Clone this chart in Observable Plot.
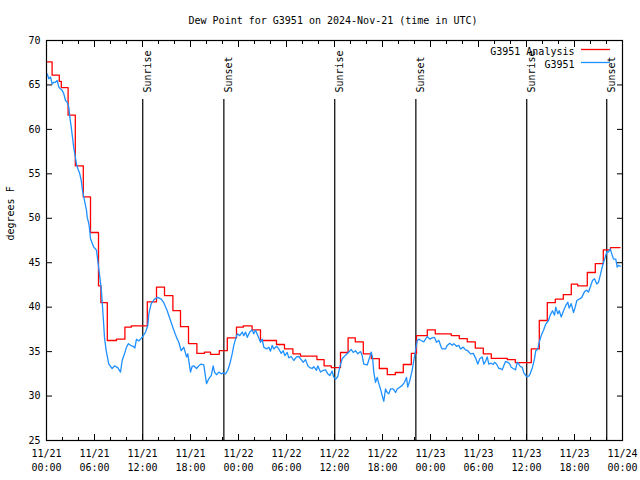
<!DOCTYPE html>
<html><head><meta charset="utf-8">
<script src="https://cdn.jsdelivr.net/npm/d3@7"></script>
<script src="https://cdn.jsdelivr.net/npm/@observablehq/plot@0.6"></script>
<style>body{margin:0;background:#fff} svg{display:block}</style>
</head><body><div id="chart"></div>
<script>
const title = "Dew Point for G3951 on 2024-Nov-21 (time in UTC)";
const yLabel = "degrees F";
const seriesNames = ["G3951 Analysis", "G3951"];
const seriesColors = ["#ff0000", "#1e90ff"];
const startUTC = Date.UTC(2024, 10, 21);

// observations (hours since 11/21 00:00 UTC, dew point °F)
const obsHours = [0.09,0.29,0.5,0.71,0.91,1.12,1.34,1.54,1.75,1.96,2.16,2.38,2.59,2.79,2.91,3.09,3.25,3.41,3.54,3.75,3.91,4.16,4.34,4.5,4.66,4.84,5.0,5.09,5.29,5.41,5.5,5.91,6.25,6.41,6.66,6.84,7.09,7.25,7.46,7.79,8.21,8.5,8.91,9.25,9.46,9.75,10.0,10.25,10.5,10.84,11.04,11.25,11.54,11.75,12.04,12.38,12.66,12.79,13.09,13.5,13.91,14.34,14.66,15.09,15.5,15.84,16.25,16.54,16.84,17.16,17.5,17.66,18.0,18.21,18.41,18.75,19.04,19.34,19.66,20.0,20.29,20.59,20.84,21.0,21.25,21.54,21.84,22.09,22.38,22.66,22.91,23.21,23.41,23.63,23.84,24.16,24.46,24.66,24.88,25.09,25.41,25.71,25.91,26.13,26.41,26.75,26.96,27.16,27.5,27.79,28.0,28.21,28.41,28.75,29.04,29.34,29.59,29.79,30.09,30.29,30.59,30.91,31.25,31.54,31.84,32.09,32.38,32.66,32.91,33.21,33.41,33.75,33.91,34.25,34.59,34.88,35.16,35.41,35.71,35.91,36.16,36.41,36.66,36.96,37.38,37.79,38.09,38.34,38.63,38.91,39.25,39.46,39.66,40.09,40.41,40.59,40.75,40.91,41.13,41.34,41.54,41.75,41.96,42.16,42.38,42.59,42.79,43.0,43.34,43.63,43.84,44.16,44.46,44.75,45.0,45.16,45.41,45.71,45.91,46.13,46.34,46.54,46.84,47.16,47.59,47.91,48.21,48.5,48.75,49.04,49.34,49.46,49.88,50.09,50.41,50.71,50.91,51.25,51.54,51.75,52.09,52.38,52.66,53.0,53.34,53.63,53.91,54.16,54.46,54.66,54.88,55.09,55.29,55.59,55.84,56.0,56.25,56.54,56.75,56.96,57.16,57.38,57.66,57.91,58.09,58.34,58.63,58.84,59.04,59.25,59.46,59.66,60.0,60.29,60.46,60.75,61.0,61.16,61.41,61.59,61.84,62.13,62.41,62.75,62.96,63.25,63.5,63.66,63.91,64.09,64.34,64.63,64.91,65.16,65.34,65.59,65.88,66.09,66.29,66.59,66.91,67.25,67.54,67.75,67.96,68.25,68.5,68.79,69.0,69.21,69.41,69.63,69.84,70.04,70.25,70.46,70.66,70.88,71.16,71.34,71.5,71.75];
const obsDewF = [66.25,65.7,65.9,65.1,65.3,65.3,65.5,64.75,64.55,64.4,64.0,63.25,63.05,62.5,61.4,60.25,59.1,57.9,57.25,56.1,55.6,55.0,54.25,53.1,52.4,51.6,50.9,50.1,49.4,48.6,47.7,46.75,46.4,45.25,43.4,42.1,38.9,36.6,35.1,33.6,33.1,33.4,33.2,32.7,34.0,34.75,35.5,35.9,35.7,35.6,35.4,36.4,36.2,36.4,36.7,37.2,37.9,39.25,40.4,40.9,41.1,40.9,40.5,39.6,38.5,37.6,36.6,36.05,35.1,35.5,34.4,34.75,32.7,33.35,33.4,33.1,33.4,33.6,33.5,31.4,31.95,32.3,33.4,32.7,32.4,32.7,32.5,32.6,32.5,32.9,33.6,34.75,35.7,36.4,37.0,36.8,37.2,36.8,37.2,36.6,37.2,37.45,37.0,37.4,36.8,36.05,36.4,35.5,35.3,35.5,35.05,35.7,35.3,35.6,35.3,34.8,35.1,34.55,34.9,34.3,34.45,34.0,34.4,34.45,34.1,33.8,34.1,33.4,33.2,33.1,33.3,32.9,33.4,32.7,32.9,32.95,32.5,32.3,32.8,32.1,31.9,32.2,33.25,34.2,34.6,34.95,35.25,34.9,35.1,34.75,35.0,34.55,33.6,33.5,34.4,34.95,34.4,32.7,31.55,32.1,31.4,30.8,30.05,29.4,30.8,30.4,30.25,30.8,30.8,30.4,30.8,31.0,31.2,31.55,32.1,31.0,31.75,32.9,34.0,35.1,36.25,36.4,36.25,36.1,36.7,36.4,36.55,36.6,36.05,36.25,35.5,35.3,35.3,35.7,35.95,35.7,35.9,35.6,35.7,35.3,35.5,35.2,35.1,34.75,34.8,34.3,33.6,34.2,34.4,33.6,33.9,34.4,33.6,33.7,33.55,33.8,33.6,33.1,33.1,32.95,33.4,33.9,33.8,33.6,33.25,33.1,32.95,33.8,33.6,33.3,33.25,32.6,32.2,32.25,32.5,33.25,34.2,35.1,35.3,36.05,36.8,37.4,38.1,38.5,39.1,39.6,39.1,40.0,39.25,39.6,38.9,39.6,40.2,40.55,39.9,40.4,39.4,40.0,40.75,40.9,41.1,41.75,41.9,41.7,42.25,43.0,43.2,42.6,42.8,43.55,44.3,45.05,45.6,46.25,46.2,46.55,46.0,45.4,45.4,44.5,44.7,44.6];

// analysis (step starts, hours since 11/21 00:00 UTC, dew point °F)
const anaHours = [0,0.7,1.6,1.85,2.7,3.6,4.6,5.5,6.5,6.8,7.6,8.75,9.8,10.6,12.6,13.75,14.75,15.8,16.75,17.75,18.8,19.75,20.5,21.6,22.6,23.75,24.6,25.7,26.75,28.75,29.75,30.8,31.75,33.8,34.7,35.6,36.75,37.7,38.6,39.6,40.6,41.6,42.6,43.6,44.6,45.6,46.25,47.6,48.6,50.6,51.6,52.6,53.6,54.6,55.6,57.6,58.6,60.6,61.6,62.6,63.6,64.6,65.6,66.4,67.6,68.6,69.6,70.5,71.7];
const anaDewF = [67.6,66.1,65.4,64.7,61.6,55.9,52.4,48.4,42.4,40.5,36.25,36.4,37.75,37.9,40.6,42.25,41.3,39.6,37.8,35.9,34.8,34.95,34.7,35.1,36.55,37.75,37.9,37.45,36.25,35.8,35.3,34.75,34.5,34.1,33.4,33.2,34.9,36.55,36.1,34.75,34.2,33.1,32.4,32.65,33.55,34.8,36.8,37.45,37.0,36.8,36.45,36.1,35.4,34.75,34.25,34.1,33.75,35.3,38.5,40.5,40.9,41.4,42.6,42.4,43.9,44.9,46.45,46.7,46.7];

const sunHours = [12.03, 22.17, 36.03, 46.17, 60.03, 70.03];
const sunLabels = ["Sunrise", "Sunset", "Sunrise", "Sunset", "Sunrise", "Sunset"];

const yTicks = [25, 30, 35, 40, 45, 50, 55, 60, 65, 70];
const xTickHours = [0, 6, 12, 18, 24, 30, 36, 42, 48, 54, 60, 66, 72];
const xTickLabels = ["11/21\n00:00","11/21\n06:00","11/21\n12:00","11/21\n18:00","11/22\n00:00","11/22\n06:00","11/22\n12:00","11/22\n18:00","11/23\n00:00","11/23\n06:00","11/23\n12:00","11/23\n18:00","11/24\n00:00"];
const xMinorHours = d3.range(0, 73, 2);

const toDate = h => new Date(startUTC + h * 3600e3);
const obs = obsHours.map((h, i) => ({t: toDate(h), v: obsDewF[i]}));
const ana = anaHours.map((h, i) => ({t: toDate(h), v: anaDewF[i]}));
const sun = sunHours.map((h, i) => ({t: toDate(h), label: sunLabels[i]}));
const xTicks = xTickHours.map(toDate);
const xMinor = xMinorHours.map(toDate);
const labelMap = new Map(xTickHours.map((h, i) => [+toDate(h), xTickLabels[i]]));
const blank = () => "";
const font = "DejaVu Sans Mono";

const W = 640, H = 480, mL = 46, mR = 18, mT = 40, mB = 40;

const plot = Plot.plot({
  width: W, height: H,
  marginLeft: mL, marginRight: mR, marginTop: mT, marginBottom: mB,
  style: {fontFamily: font, fontSize: "10px", background: "white", color: "black"},
  x: {type: "utc", domain: [toDate(0), toDate(72)]},
  y: {domain: [25, 70]},
  marks: [
    Plot.ruleX(sun, {x: "t", insetTop: 59, stroke: "black", strokeWidth: 1.2}),
    Plot.text(sun, {x: "t", text: "label", frameAnchor: "top", dy: 52, dx: 1, rotate: -90, textAnchor: "start", fill: "black"}),
    Plot.line(ana, {x: "t", y: "v", stroke: seriesColors[0], curve: "step-after", strokeWidth: 1.3}),
    Plot.line(obs, {x: "t", y: "v", stroke: seriesColors[1], strokeWidth: 1.3}),
    Plot.frame({stroke: "black", strokeWidth: 1.2}),
    Plot.axisX(xTicks, {anchor: "bottom", tickSize: -6, tickPadding: 13, tickFormat: d => labelMap.get(+d), lineHeight: 1.4, label: null}),
    Plot.axisX(xMinor, {anchor: "bottom", tickSize: -3, tickFormat: blank, label: null}),
    Plot.axisX(xTicks, {anchor: "top", tickSize: -6, tickFormat: blank, label: null}),
    Plot.axisX(xMinor, {anchor: "top", tickSize: -3, tickFormat: blank, label: null}),
    Plot.axisY(yTicks, {anchor: "left", tickSize: -6, tickPadding: 12, label: null}),
    Plot.axisY(yTicks, {anchor: "right", tickSize: -6, tickFormat: blank, label: null}),
    Plot.text([title], {frameAnchor: "top", dy: -24, dx: -1.5}),
    Plot.text([yLabel], {frameAnchor: "left", dx: -36, rotate: -90}),
    Plot.text([seriesNames[0]], {frameAnchor: "top-right", dx: -48, dy: 7, textAnchor: "end"}),
    Plot.text([seriesNames[1]], {frameAnchor: "top-right", dx: -48, dy: 20, textAnchor: "end"})
  ]
});

// legend swatches
const svg = d3.select(plot);
[0, 1].forEach(i => {
  const y = mT + 9.5 + i * 13;
  svg.append("line")
    .attr("x1", W - mR - 41).attr("x2", W - mR - 12)
    .attr("y1", y).attr("y2", y)
    .attr("stroke", seriesColors[i]).attr("stroke-width", 1.3);
});
document.getElementById("chart").append(plot);
</script>
</body></html>
